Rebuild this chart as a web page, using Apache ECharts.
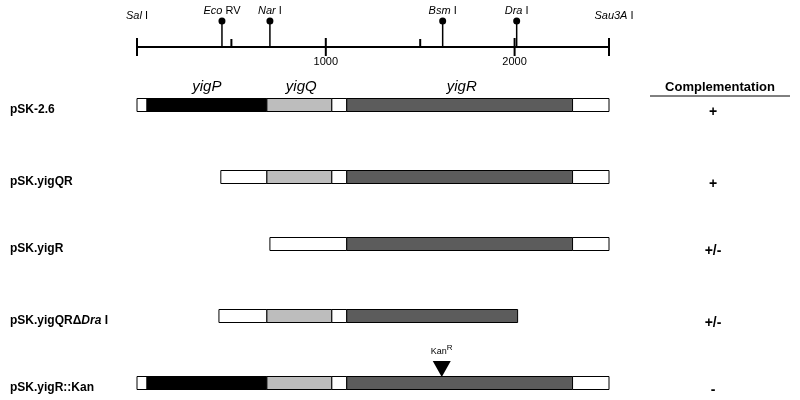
<!DOCTYPE html><html><head><meta charset="utf-8"><script src="https://cdn.jsdelivr.net/npm/echarts@6/dist/echarts.min.js"></script>
<style>body{margin:0}#c{width:800px;height:400px}</style></head><body><div id="c"></div><script>
const constructs=['pSK-2.6','pSK.yigQR','pSK.yigR','pSK.yigQR\u0394Dra I','pSK.yigR::Kan'];
const complementation=['+','+','+/-','+/-','-'];
// segments: [start, end, type(0 white,1 yigP,2 yigQ,3 yigR), row]
const segments=[
[0,53,0,0],[53,688,1,0],[688,1032,2,0],[1032,1111,0,0],[1111,2307,3,0],[2307,2500,0,0],
[444,688,0,1],[688,1032,2,1],[1032,1111,0,1],[1111,2307,3,1],[2307,2500,0,1],
[704,1111,0,2],[1111,2307,3,2],[2307,2500,0,2],
[434,688,0,3],[688,1032,2,3],[1032,1111,0,3],[1111,2016,3,3],
[0,53,0,4],[53,688,1,4],[688,1032,2,4],[1032,1111,0,4],[1111,2307,3,4],[2307,2500,0,4]];
const sites=[['Eco','RV',450],['Nar','I',704],['Bsm','I',1619],['Dra','I',2011]];
const majorTicks=[0,1000,2000,2500];
const minorTicks=[500,1500];
const tickLabels=[1000,2000];
const genes=[['yigP',370],['yigQ',870],['yigR',1720]];
const kanPos=1614;
const rowY=[105,177,244,316,383];
const fills=['#fff','#000','#bdbdbd','#5c5c5c'];
const F='Liberation Sans';
const chart=echarts.init(document.getElementById('c'));
function scale(params,api){
  const ch=[];const y=47;
  const a=api.coord([0,y]),b=api.coord([2500,y]);
  ch.push({type:'line',shape:{x1:a[0],y1:y,x2:b[0],y2:y},style:{stroke:'#000',lineWidth:2}});
  majorTicks.forEach(t=>{const p=api.coord([t,y]);ch.push({type:'line',shape:{x1:p[0],y1:38,x2:p[0],y2:56},style:{stroke:'#000',lineWidth:2}});});
  minorTicks.forEach(t=>{const p=api.coord([t,y]);ch.push({type:'line',shape:{x1:p[0],y1:39,x2:p[0],y2:47},style:{stroke:'#000',lineWidth:2}});});
  tickLabels.forEach(t=>{const p=api.coord([t,y]);ch.push({type:'text',style:{text:String(t),x:p[0],y:62,align:'center',verticalAlign:'middle',font:'11px '+F,fill:'#000'}});});
  sites.forEach(s=>{const p=api.coord([s[2],y]);
    ch.push({type:'line',shape:{x1:p[0],y1:21,x2:p[0],y2:47},style:{stroke:'#000',lineWidth:1.5}});
    ch.push({type:'circle',shape:{cx:p[0],cy:21,r:3.5},style:{fill:'#000'}});
    ch.push({type:'text',style:{text:'{i|'+s[0]+'} '+s[1],x:p[0],y:11,align:'center',verticalAlign:'middle',font:'11px '+F,fill:'#000',rich:{i:{fontStyle:'italic',font:'italic 11px '+F}}}});});
  ch.push({type:'text',style:{text:'{i|Sal} I',x:a[0],y:16,align:'center',verticalAlign:'middle',font:'11px '+F,fill:'#000',rich:{i:{font:'italic 11px '+F}}}});
  ch.push({type:'text',style:{text:'{i|Sau3A} I',x:b[0]+5,y:16,align:'center',verticalAlign:'middle',font:'11px '+F,fill:'#000',rich:{i:{font:'italic 11px '+F}}}});
  genes.forEach(g=>{const p=api.coord([g[1],0]);ch.push({type:'text',style:{text:g[0],x:p[0],y:87,align:'center',verticalAlign:'middle',font:'italic 15px '+F,fill:'#000'}});});
  constructs.forEach((c,i)=>{
    const txt=c.indexOf('Dra')>=0?'pSK.yigQR\u0394{i|Dra} I':c;
    ch.push({type:'text',style:{text:txt,x:10,y:rowY[i]+5,align:'left',verticalAlign:'middle',font:'bold 12px '+F,fill:'#000',rich:{i:{font:'bold italic 12px '+F}}}});
    ch.push({type:'text',style:{text:complementation[i],x:713,y:rowY[i]+7,align:'center',verticalAlign:'middle',font:'bold 14px '+F,fill:'#000'}});});
  ch.push({type:'text',style:{text:'Complementation',x:720,y:87,align:'center',verticalAlign:'middle',font:'bold 13px '+F,fill:'#000'}});
  ch.push({type:'line',shape:{x1:650,y1:96,x2:790,y2:96},style:{stroke:'#000',lineWidth:1}});
  const k=api.coord([kanPos,0]);
  ch.push({type:'polygon',shape:{points:[[k[0]-9,361],[k[0]+9,361],[k[0],377]]},style:{fill:'#000'}});
  ch.push({type:'text',style:{text:'Kan{s|R}',x:k[0],y:352,align:'center',verticalAlign:'middle',font:'9px '+F,fill:'#000',rich:{s:{font:'8px '+F,verticalAlign:'top',padding:[0,0,8,0]}}}});
  return {type:'group',children:ch};
}
chart.setOption({animation:false,
 grid:{left:137,right:191,top:0,bottom:0},
 xAxis:{type:'value',min:0,max:2500,show:false},
 yAxis:{type:'value',min:0,max:400,inverse:true,show:false},
 series:[
 {type:'custom',data:segments,renderItem:(p,api)=>{
   const r=rowY[api.value(3)];const a=api.coord([api.value(0),r]),b=api.coord([api.value(1),r]);
   return {type:'rect',shape:{x:a[0],y:r-6.5,width:b[0]-a[0],height:13},style:{fill:fills[api.value(2)],stroke:'#000',lineWidth:1}};}},
 {type:'custom',data:[[0,0]],renderItem:scale}
 ]});
</script></body></html>
